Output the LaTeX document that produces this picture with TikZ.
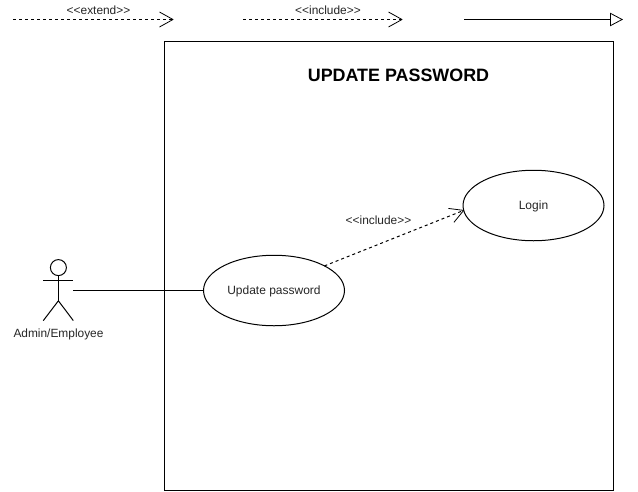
\documentclass[tikz,border=0pt]{standalone}
\usepackage{fontspec}
\setmainfont{Liberation Sans}
\usetikzlibrary{arrows.meta,shapes.geometric}
\pgfdeclarearrow{
  name=OpenV,
  setup code={\pgfarrowssettipend{0pt}\pgfarrowssetlineend{-0.6pt}\pgfarrowssetbackend{-13.5pt}\pgfarrowssetvisualbackend{-13.5pt}\pgfarrowssetvisualtipend{0pt}\pgfarrowshullpoint{0pt}{0pt}\pgfarrowshullpoint{-13.5pt}{7.5pt}\pgfarrowshullpoint{-13.5pt}{-7.5pt}},
  drawing code={\pgfsetdash{}{0pt}\pgfsetlinewidth{0.8pt}\pgfsetroundjoin
    \pgfpathmoveto{\pgfpoint{-13.5pt}{7.5pt}}\pgfpathlineto{\pgfpoint{0pt}{0pt}}\pgfpathlineto{\pgfpoint{-13.5pt}{-7.5pt}}\pgfusepathqstroke}
}
\tikzset{
  x=1pt,y=-1pt,
  line/.style={draw=black,line width=1pt,outer sep=0pt},
  usecase/.style={ellipse,line,minimum width=141pt,minimum height=70.5pt,inner sep=0pt,font=\fontsize{12}{14}\selectfont,text=black!85,text height=9pt,text depth=0.2pt},
  lbl/.style={inner sep=0pt,font=\fontsize{11.9}{14}\selectfont,text=black!85},
  dep/.style={line,dash pattern=on 3pt off 3pt,-{OpenV}},
  gen/.style={line,-{Triangle[open,length=13pt,width=13.5pt,line width=0.8pt]}},
}
\begin{document}
\begin{tikzpicture}
\useasboundingbox (0,0) rectangle (638,491);
\fill[white] (0,0) rectangle (638,491);
% legend
\coordinate (e1) at (13,19.5); \coordinate (e2) at (173,19.5);
\coordinate (i1) at (243,19.5); \coordinate (i2) at (402,19.5);
\coordinate (g1) at (464,19.5); \coordinate (g2) at (623,19.5);
\draw[dep] (e1) -- (e2);
\draw[dep] (i1) -- (i2);
\draw[gen] (g1) -- (g2);
\node[lbl] (le) at (98.5,10) {{<}{<}extend{>}{>}};
\node[lbl] (li) at (328,10) {{<}{<}include{>}{>}};
% system
\node[line,minimum width=449pt,minimum height=449pt,inner sep=0pt] (sys) at (389,265.8) {};
\node[inner sep=0pt,font=\fontsize{17.9}{20}\selectfont\bfseries] (title) at (398.5,75) {UPDATE PASSWORD};
% use cases
\node[usecase] (upd) at (274,290.5) {Update password};
\node[usecase] (login) at (533.5,205.5) {Login};
% actor
\node[circle,line,minimum size=16pt,inner sep=0pt] (head) at (58.4,267.6) {};
\coordinate (hip) at (58.4,300.8);
\coordinate (armL) at (43.3,280.4); \coordinate (armR) at (73.3,280.4);
\coordinate (legL) at (43.3,320.6); \coordinate (legR) at (73.3,320.6);
\coordinate (hand) at (73.3,290.5);
\draw[line] (head.south) -- (hip);
\draw[line] (armL) -- (armR);
\draw[line] (legL) -- (hip) -- (legR);
\node[lbl] (actor) at (58.5,334.3) {Admin/Employee};
% connectors
\draw[line] (hand) -- (upd.west);
\draw[dep] (upd.26.6) -- (login.184);
\node[lbl] (inc) at (378.5,220) {{<}{<}include{>}{>}};
\end{tikzpicture}
\end{document}
